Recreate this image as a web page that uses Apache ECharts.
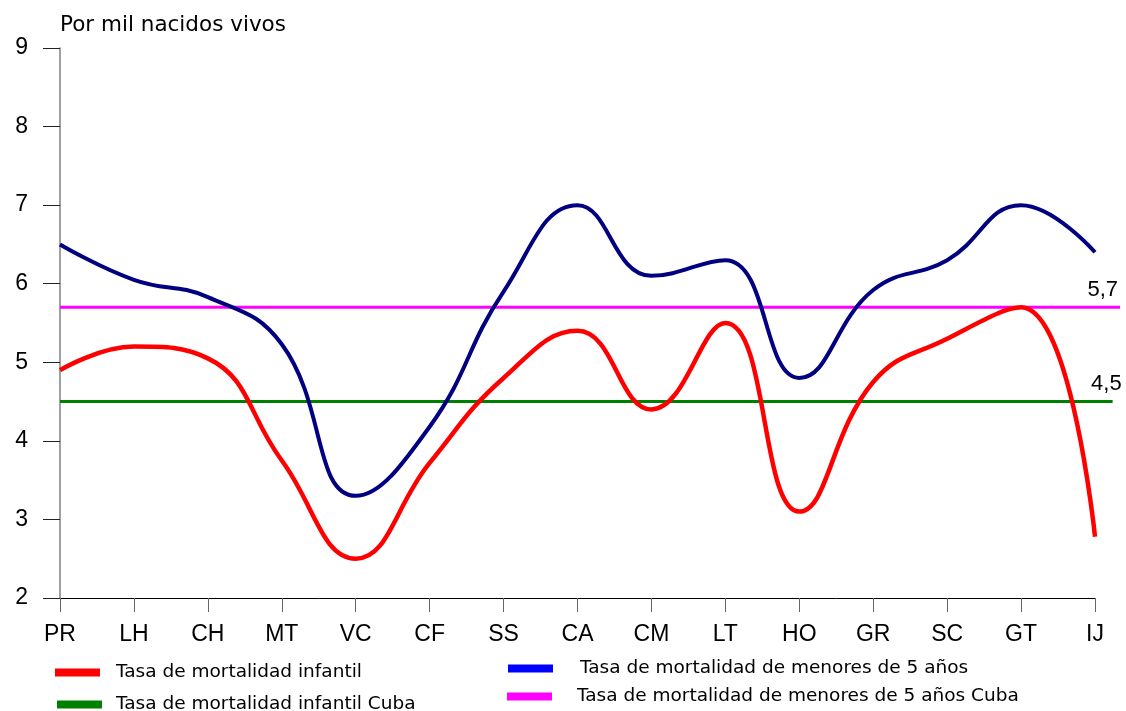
<!DOCTYPE html>
<html>
<head>
<meta charset="utf-8">
<script src="https://cdn.jsdelivr.net/npm/echarts@6/dist/echarts.min.js"></script>
<style>
html,body{margin:0;padding:0;background:#fff;}
#chart{width:1126px;height:711px;}
</style>
</head>
<body>
<div id="chart"></div>
<script>
const categories = ['PR','LH','CH','MT','VC','CF','SS','CA','CM','LT','HO','GR','SC','GT','IJ'];
const infantil = [4.9, 5.2, 5.05, 3.75, 2.5, 3.72, 4.8, 5.4, 4.4, 5.5, 3.1, 4.75, 5.3, 5.7, 2.78];
const menores5 = [6.5, 6.05, 5.83, 5.23, 3.3, 4.18, 5.9, 7.0, 6.1, 6.3, 4.8, 5.92, 6.3, 7.0, 6.4];
const cubaInfantil = 4.5;
const cubaMenores5 = 5.7;
const yTicks = [2, 3, 4, 5, 6, 7, 8, 9];
const names = ['Tasa de mortalidad infantil', 'Tasa de mortalidad infantil Cuba',
  'Tasa de mortalidad de menores de 5 años', 'Tasa de mortalidad de menores de 5 años Cuba'];
// extents of the Cuba reference lines, in category-index units (lines run a bit past the last category)
const refAxisMax = 14.36;
const greenEnd = 14.26;

const FONT = '"Liberation Sans", Arial, sans-serif';
const WIDE = '"DejaVu Sans", "Liberation Sans", sans-serif';
const fmt = v => String(v).replace('.', ',');

const chart = echarts.init(document.getElementById('chart'), null, {renderer: 'canvas'});

function legendCfg(name, left, top, color, padLeft) {
  return {
    left: left, top: top, orient: 'horizontal', padding: 0,
    icon: 'rect', itemWidth: 45, itemHeight: 8,
    selectedMode: false,
    data: [{name: name, itemStyle: {color: color}}],
    textStyle: {fontFamily: WIDE, fontSize: 18.5, color: '#000', padding: [0, 0, 0, padLeft]}
  };
}

const option = {
  backgroundColor: '#fff',
  animation: false,
  textStyle: {fontFamily: FONT},
  grid: [
    {left: 60, right: 31, top: 48, bottom: 113},
    {left: 60, right: 6, top: 48, bottom: 113}
  ],
  legend: [
    legendCfg(names[0], 55, 663, '#ff0000', 11),
    legendCfg(names[1], 57, 695, '#008000', 9),
    legendCfg(names[2], 508, 659, '#0000ff', 22),
    legendCfg(names[3], 507, 687, '#ff00ff', 20)
  ],
  xAxis: [
    {
      type: 'category', gridIndex: 0, data: categories, boundaryGap: false,
      axisLine: {show: true, lineStyle: {color: '#000', width: 1}},
      axisTick: {show: true, length: 14, lineStyle: {color: '#666'}},
      axisLabel: {fontFamily: FONT, fontSize: 23, color: '#000', margin: 25},
      splitLine: {show: false}
    },
    {
      type: 'value', gridIndex: 1, min: 0, max: refAxisMax, show: false
    }
  ],
  yAxis: [
    {
      type: 'value', gridIndex: 0, min: yTicks[0], max: yTicks[yTicks.length - 1], interval: 1,
      name: 'Por mil nacidos vivos', nameLocation: 'end', nameGap: 23,
      nameTextStyle: {fontFamily: WIDE, fontSize: 21.5, color: '#000', align: 'left', verticalAlign: 'middle'},
      axisLine: {show: true, lineStyle: {color: '#808080', width: 1.5}},
      axisTick: {show: true, inside: false, length: 17, lineStyle: {color: '#222'}},
      axisLabel: {fontFamily: FONT, fontSize: 23, color: '#000', margin: 32},
      splitLine: {show: false}
    },
    {
      type: 'value', gridIndex: 1, min: yTicks[0], max: yTicks[yTicks.length - 1], show: false
    }
  ],
  series: [
    {
      name: names[0], type: 'line', xAxisIndex: 0, yAxisIndex: 0,
      data: infantil, smooth: 0.45, symbol: 'none',
      lineStyle: {color: '#ff0000', width: 4.5}, itemStyle: {color: '#ff0000'}, z: 4
    },
    {
      name: names[2], type: 'line', xAxisIndex: 0, yAxisIndex: 0,
      data: menores5, smooth: 0.45, symbol: 'none',
      lineStyle: {color: '#000080', width: 4}, itemStyle: {color: '#000080'}, z: 3
    },
    {
      name: names[1], type: 'line', xAxisIndex: 1, yAxisIndex: 1,
      data: [[0, cubaInfantil], {value: [greenEnd, cubaInfantil], label: {show: true}}],
      symbol: 'circle', symbolSize: 0, showSymbol: true,
      lineStyle: {color: '#008000', width: 3}, itemStyle: {color: '#008000'}, z: 2,
      label: {show: false, position: 'top', align: 'right', distance: 7, offset: [9, 0],
        formatter: p => fmt(p.value[1]), fontFamily: FONT, fontSize: 22, color: '#000'}
    },
    {
      name: names[3], type: 'line', xAxisIndex: 1, yAxisIndex: 1,
      data: [[0, cubaMenores5], {value: [refAxisMax, cubaMenores5], label: {show: true}}],
      symbol: 'circle', symbolSize: 0, showSymbol: true,
      lineStyle: {color: '#ff00ff', width: 3}, itemStyle: {color: '#ff00ff'}, z: 2,
      label: {show: false, position: 'top', align: 'right', distance: 6, offset: [-2, 0],
        formatter: p => fmt(p.value[1]), fontFamily: FONT, fontSize: 22, color: '#000'}
    }
  ]
};
chart.setOption(option);
</script>
</body>
</html>
